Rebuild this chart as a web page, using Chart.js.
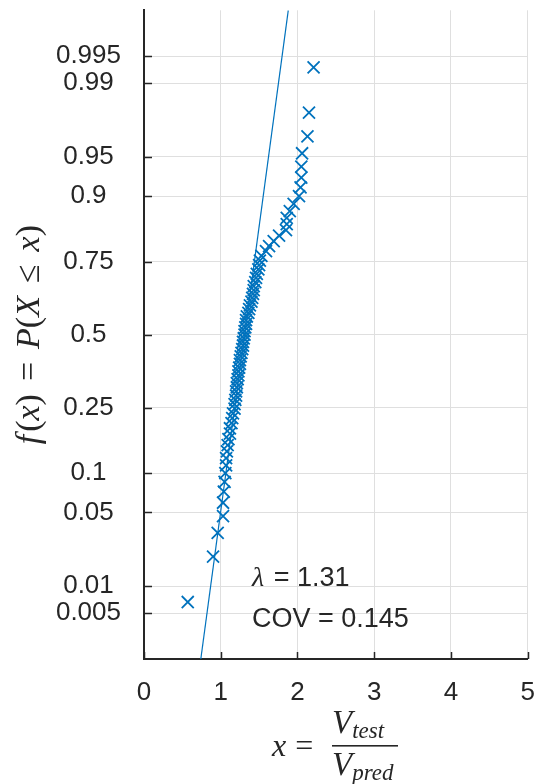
<!DOCTYPE html>
<html>
<head>
<meta charset="utf-8">
<script src="https://cdn.jsdelivr.net/npm/chart.js@4.4.1/dist/chart.umd.min.js"></script>
<style>
  html, body { margin: 0; padding: 0; background: #fff; }
  canvas { display: block; }
</style>
</head>
<body>
<canvas id="grafico" width="538" height="784"></canvas>
<script>
// V_test / V_pred, sorted
const ratios = [
  0.57, 0.90, 0.96, 1.03, 1.03, 1.04, 1.05, 1.06, 1.07, 1.07,
  1.08, 1.09, 1.10, 1.12, 1.12, 1.14, 1.15, 1.16, 1.18, 1.18,
  1.19, 1.20, 1.20, 1.21, 1.21, 1.22, 1.23, 1.23, 1.24, 1.25,
  1.25, 1.26, 1.27, 1.28, 1.29, 1.29, 1.30, 1.31, 1.31, 1.32,
  1.33, 1.33, 1.34, 1.36, 1.37, 1.38, 1.40, 1.41, 1.42, 1.43,
  1.43, 1.45, 1.46, 1.47, 1.49, 1.50, 1.51, 1.53, 1.59, 1.63,
  1.69, 1.76, 1.85, 1.86, 1.86, 1.90, 1.95, 2.02, 2.04, 2.05,
  2.05, 2.06, 2.13, 2.15, 2.21
];
// plotting position of each point
const probs = [
  0.0067, 0.0200, 0.0333, 0.0467, 0.0600, 0.0733, 0.0867, 0.1000, 0.1133, 0.1267,
  0.1400, 0.1533, 0.1667, 0.1800, 0.1933, 0.2067, 0.2200, 0.2333, 0.2467, 0.2600,
  0.2733, 0.2867, 0.3000, 0.3133, 0.3267, 0.3400, 0.3533, 0.3667, 0.3800, 0.3933,
  0.4067, 0.4200, 0.4333, 0.4467, 0.4600, 0.4733, 0.4867, 0.5000, 0.5133, 0.5267,
  0.5400, 0.5533, 0.5667, 0.5800, 0.5933, 0.6067, 0.6200, 0.6333, 0.6467, 0.6600,
  0.6733, 0.6867, 0.7000, 0.7133, 0.7267, 0.7400, 0.7533, 0.7667, 0.7800, 0.7933,
  0.8067, 0.8200, 0.8333, 0.8467, 0.8600, 0.8733, 0.8867, 0.9000, 0.9133, 0.9267,
  0.9400, 0.9533, 0.9667, 0.9800, 0.9933
];
const tickProbs = [0.005, 0.01, 0.05, 0.1, 0.25, 0.5, 0.75, 0.9, 0.95, 0.99, 0.995];
const tickLabels = ['0.005', '0.01', '0.05', '0.1', '0.25', '0.5', '0.75', '0.9', '0.95', '0.99', '0.995'];
const xTicks = [0, 1, 2, 3, 4, 5];

const LAMBDA = 1.31;
const COV = 0.145;

const azul = '#0072bd';
const oscuro = '#262626';

// inversa de la normal (Acklam)
function normInv(p) {
  const a = [-3.969683028665376e+01, 2.209460984245205e+02, -2.759285104469687e+02, 1.383577518672690e+02, -3.066479806614716e+01, 2.506628277459239e+00];
  const b = [-5.447609879822406e+01, 1.615858368580409e+02, -1.556989798598866e+02, 6.680131188771972e+01, -1.328068155288572e+01];
  const c = [-7.784894002430293e-03, -3.223964580411365e-01, -2.400758277161838e+00, -2.549732539343734e+00, 4.374664141464968e+00, 2.938163982698783e+00];
  const d = [7.784695709041462e-03, 3.224671290700398e-01, 2.445134137142996e+00, 3.754408661907416e+00];
  const pl = 0.02425;
  let q, r;
  if (p < pl) {
    q = Math.sqrt(-2 * Math.log(p));
    return (((((c[0]*q+c[1])*q+c[2])*q+c[3])*q+c[4])*q+c[5]) / ((((d[0]*q+d[1])*q+d[2])*q+d[3])*q+1);
  }
  if (p <= 1 - pl) {
    q = p - 0.5; r = q * q;
    return (((((a[0]*r+a[1])*r+a[2])*r+a[3])*r+a[4])*r+a[5])*q / (((((b[0]*r+b[1])*r+b[2])*r+b[3])*r+b[4])*r+1);
  }
  q = Math.sqrt(-2 * Math.log(1 - p));
  return -(((((c[0]*q+c[1])*q+c[2])*q+c[3])*q+c[4])*q+c[5]) / ((((d[0]*q+d[1])*q+d[2])*q+d[3])*q+1);
}

const puntos = ratios.map((x, i) => ({ x: x, y: normInv(probs[i]) }));
const sd = LAMBDA * COV;
const recta = [{ x: LAMBDA - 3 * sd, y: -3 }, { x: LAMBDA + 3 * sd, y: 3 }];

const SERIF = '"Liberation Serif", "DejaVu Serif", serif';
const SANS = '"Liberation Sans", Arial, sans-serif';

// dibuja texto matematico por partes: [texto, cursiva, tamaño, dy]
function medir(ctx, partes) {
  let w = 0;
  partes.forEach(p => {
    if (typeof p === 'number') { w += p; return; }
    ctx.font = (p[1] ? 'italic ' : '') + p[2] + 'px ' + SERIF;
    w += ctx.measureText(p[0]).width;
  });
  return w;
}
function dibujarMath(ctx, partes, x, y) {
  ctx.textBaseline = 'alphabetic';
  ctx.textAlign = 'left';
  partes.forEach(p => {
    if (typeof p === 'number') { x += p; return; }
    ctx.font = (p[1] ? 'italic ' : '') + p[2] + 'px ' + SERIF;
    ctx.fillText(p[0], x, y + (p[3] || 0));
    x += ctx.measureText(p[0]).width;
  });
}

const extras = {
  id: 'extras',
  afterDraw(chart) {
    const ctx = chart.ctx;
    const xs = chart.scales.x, ys = chart.scales.y;
    const area = chart.chartArea;
    ctx.save();
    // marcas hacia adentro
    ctx.strokeStyle = oscuro;
    ctx.lineWidth = 1.5;
    ctx.beginPath();
    ys.ticks.forEach(t => {
      const py = Math.round(ys.getPixelForValue(t.value)) + 0.5;
      ctx.moveTo(area.left, py); ctx.lineTo(area.left + 8, py);
    });
    xs.ticks.forEach(t => {
      const px = Math.round(xs.getPixelForValue(t.value)) + 0.5;
      ctx.moveTo(px, area.bottom); ctx.lineTo(px, area.bottom - 7);
    });
    ctx.stroke();

    ctx.fillStyle = oscuro;
    // anotaciones
    ctx.font = 'italic 28px ' + SERIF;
    ctx.textBaseline = 'alphabetic';
    ctx.fillText('λ', 252, 586);
    const wl = ctx.measureText('λ').width;
    ctx.font = '27px ' + SANS;
    ctx.fillText(' = ' + LAMBDA.toFixed(2), 252 + wl + 2, 586);
    ctx.fillText('COV = ' + COV.toFixed(3), 252, 627);

    // titulo eje x
    dibujarMath(ctx, [['x', true, 32], 9, ['=', false, 32]], 272, 756);
    dibujarMath(ctx, [['V', true, 33], ['test', true, 23, 5]], 332, 733);
    dibujarMath(ctx, [['V', true, 33], ['pred', true, 23, 5]], 332, 775);
    ctx.fillRect(332, 745, 66, 1.6);

    // titulo eje y
    const partesY = [['f', true, 34], 3, ['(', false, 34], ['x', true, 34], [')', false, 34], 13, ['=', false, 34], 13,
      ['P', true, 34], ['(', false, 34], ['X', true, 34], 13, ['≤', false, 34], 13, ['x', true, 34], [')', false, 34]];
    const wy = medir(ctx, partesY);
    ctx.translate(39, (area.top + area.bottom) / 2);
    ctx.rotate(-Math.PI / 2);
    dibujarMath(ctx, partesY, -wy / 2, 0);
    ctx.restore();
  }
};

const ctx = document.getElementById('grafico').getContext('2d');
const grafico = new Chart(ctx, {
  type: 'scatter',
  data: {
    datasets: [{
      data: puntos,
      pointStyle: 'crossRot',
      pointRadius: 8.5,
      borderColor: azul,
      backgroundColor: azul,
      pointBorderWidth: 1.8,
      showLine: false
    }, {
      type: 'line',
      data: recta,
      borderColor: azul,
      borderWidth: 1.2,
      pointRadius: 0,
      showLine: true,
      fill: false
    }]
  },
  options: {
    responsive: false,
    animation: false,
    events: [],
    layout: { padding: { top: 7, right: 7, left: 0, bottom: 0 } },
    plugins: { legend: { display: false }, tooltip: { enabled: false } },
    scales: {
      x: {
        type: 'linear',
        min: 0,
        max: 5,
        afterBuildTicks: s => { s.ticks = xTicks.map(v => ({ value: v })); },
        afterFit: s => { s.height = 125; s.paddingLeft = 0; s.paddingRight = 0; },
        ticks: {
          color: oscuro,
          font: { family: SANS, size: 26 },
          padding: 18,
          callback: v => String(v)
        },
        grid: { color: '#dfdfdf', lineWidth: 1, drawTicks: false },
        border: { color: oscuro, width: 2 }
      },
      y: {
        type: 'linear',
        min: -3,
        max: 3,
        afterBuildTicks: s => { s.ticks = tickProbs.map(p => ({ value: normInv(p) })); },
        afterFit: s => { s.width = 144; s.paddingTop = 0; s.paddingBottom = 0; },
        ticks: {
          color: oscuro,
          font: { family: SANS, size: 26 },
          padding: 23,
          crossAlign: 'center',
          callback: (v, i) => tickLabels[i]
        },
        grid: { color: '#dfdfdf', lineWidth: 1, drawTicks: false },
        border: { color: oscuro, width: 2 }
      }
    }
  },
  plugins: [extras]
});
</script>
</body>
</html>
